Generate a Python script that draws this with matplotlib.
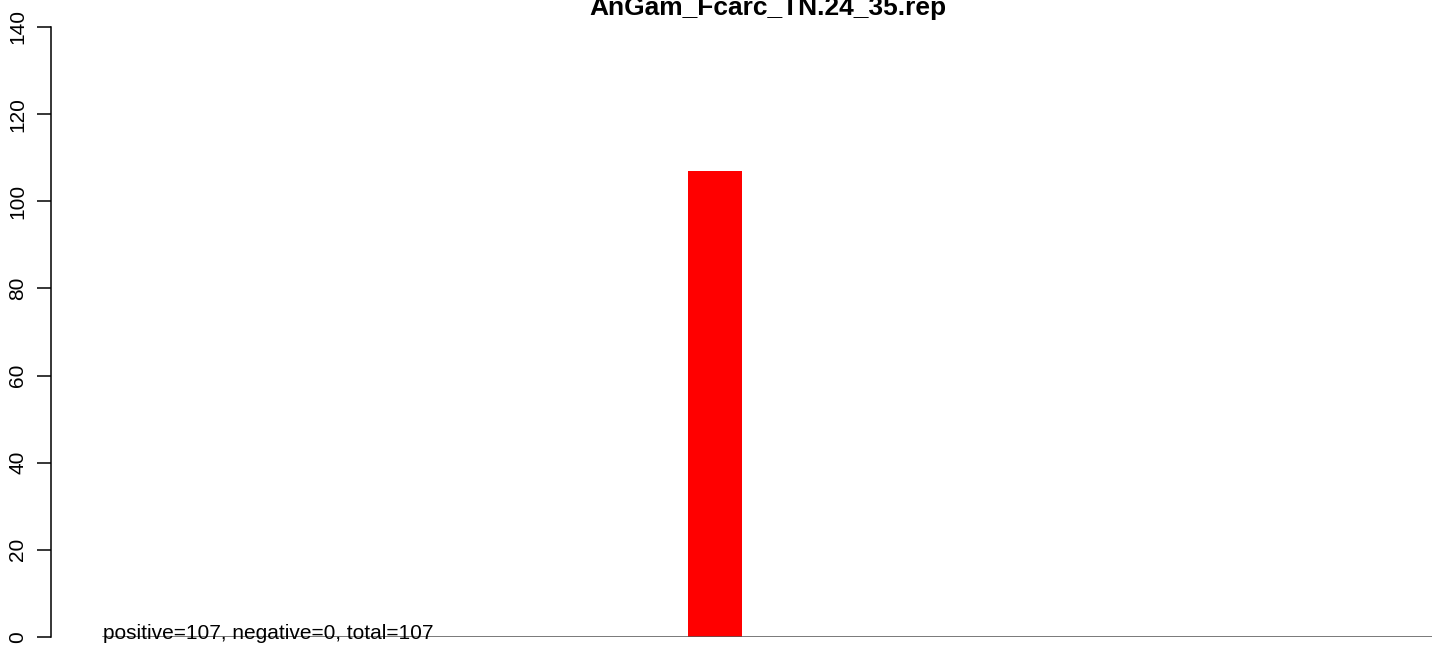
import matplotlib
matplotlib.use("Agg")
import matplotlib.pyplot as plt
import matplotlib.transforms as mtransforms
import numpy as np

plt.rcParams['font.family'] = ['Liberation Sans', 'DejaVu Sans']

title = "AnGam_Fcarc_TN.24_35.rep"
bins = list(range(20))
counts = [0, 0, 0, 0, 0, 0, 0, 0, 0, 107, 0, 0, 0, 0, 0, 0, 0, 0, 0, 0]
positive, negative, total = 107, 0, 107
yticks = [0, 20, 40, 60, 80, 100, 120, 140]

W, H = 1444, 649
fig = plt.figure(figsize=(W / 100, H / 100), dpi=100)
ax = fig.add_axes([51 / W, (H - 637) / H, 1381 / W, 610 / H])

ax.bar(bins, counts, width=0.8, color='#ff0000', edgecolor='none', zorder=1)
ax.set_xlim(-0.837, 19.62)
ax.set_ylim(0, 140)

ax.axhline(0, xmin=52 / 1381, xmax=1.0, color='#555555', lw=1.1, zorder=3)

for s in ['top', 'right', 'bottom']:
    ax.spines[s].set_visible(False)
ax.spines['left'].set_linewidth(1.1)
ax.set_xticks([])
ax.set_yticks(yticks)
ax.tick_params(axis='y', length=10, width=1.1, pad=7, labelsize=15)
for lab in ax.get_yticklabels():
    lab.set_rotation(90)
    lab.set_va('center')
    lab.set_ha('right')

off = mtransforms.offset_copy(ax.transData, fig=fig, x=0, y=-2, units='dots')
tr = mtransforms.blended_transform_factory(ax.transAxes, off)
ax.text(52 / 1381, 0, f"positive={positive}, negative={negative}, total={total}",
        transform=tr, ha='left', va='baseline', fontsize=15, zorder=4)

fig.text(767.5 / W, 1 - 15 / H, title, ha='center', va='baseline',
         fontsize=19, fontweight='bold')

fig.savefig("out.png", dpi=100)
